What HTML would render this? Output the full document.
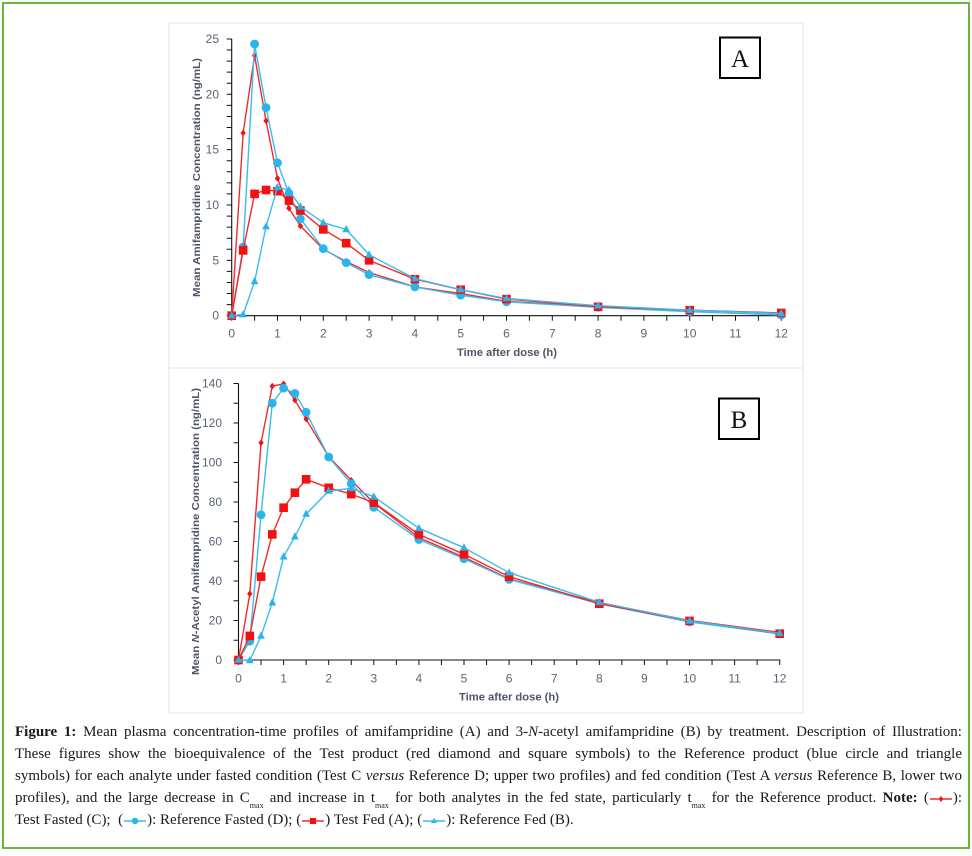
<!DOCTYPE html>
<html><head><meta charset="utf-8">
<style>
html,body{margin:0;padding:0;background:#fff;}
body{width:972px;height:856px;position:relative;overflow:hidden;}
#frame{position:absolute;left:2px;top:2px;width:964px;height:843px;border:2px solid #6db33f;}
svg#c{position:absolute;left:0;top:0;}
#cap{position:absolute;left:15px;top:721px;width:947px;font-family:"Liberation Serif","DejaVu Serif",serif;font-size:15px;color:#1a1a1a;}
#cap div{height:22px;line-height:22px;text-align:justify;text-align-last:justify;white-space:normal;}
#cap div.last{text-align:left;text-align-last:left;}
#cap sub{font-size:8px;vertical-align:-6px;line-height:0;}
.lg{display:inline-block;vertical-align:middle;}
</style></head>
<body>
<div id="frame"></div>
<svg id="c" width="972" height="856" viewBox="0 0 972 856" xmlns="http://www.w3.org/2000/svg">
<defs>
<marker id="mD" markerUnits="userSpaceOnUse" viewBox="-5 -5 10 10" markerWidth="10" markerHeight="10" refX="0" refY="0" overflow="visible"><path d="M0,-3.4 L2.7,0 L0,3.4 L-2.7,0 Z" fill="#f01414"/></marker>
<marker id="mC" markerUnits="userSpaceOnUse" viewBox="-5 -5 10 10" markerWidth="10" markerHeight="10" refX="0" refY="0" overflow="visible"><circle r="4.4" fill="#2ab4ec"/></marker>
<marker id="mS" markerUnits="userSpaceOnUse" viewBox="-5 -5 10 10" markerWidth="10" markerHeight="10" refX="0" refY="0" overflow="visible"><rect x="-4.3" y="-4.3" width="8.6" height="8.6" fill="#f51010"/></marker>
<marker id="mT" markerUnits="userSpaceOnUse" viewBox="-5 -5 10 10" markerWidth="10" markerHeight="10" refX="0" refY="0" overflow="visible"><path d="M0,-4.4 L3.9,2.8 L-3.9,2.8 Z" fill="#2ab4ec"/></marker>
</defs>

<rect x="169" y="23" width="634" height="345" fill="#fff" stroke="#dde3ec" stroke-width="1"/>
<rect x="169" y="368" width="634" height="345" fill="#fff" stroke="#dde3ec" stroke-width="1"/>

<g font-family="'Liberation Sans Narrow','Liberation Sans',sans-serif" font-size="12" fill="#5b6576">
<g text-anchor="end">
<text x="219" y="319.7">0</text>
<text x="219" y="264.3">5</text>
<text x="219" y="209">10</text>
<text x="219" y="153.6">15</text>
<text x="219" y="98.3">20</text>
<text x="219" y="43">25</text>
</g>
<g text-anchor="middle">
<text x="231.7" y="337.5">0</text>
<text x="277.5" y="337.5">1</text>
<text x="323.3" y="337.5">2</text>
<text x="369.1" y="337.5">3</text>
<text x="414.9" y="337.5">4</text>
<text x="460.7" y="337.5">5</text>
<text x="506.5" y="337.5">6</text>
<text x="552.3" y="337.5">7</text>
<text x="598.1" y="337.5">8</text>
<text x="643.9" y="337.5">9</text>
<text x="689.7" y="337.5">10</text>
<text x="735.5" y="337.5">11</text>
<text x="781.3" y="337.5">12</text>
</g>
<g text-anchor="end">
<text x="222" y="664">0</text>
<text x="222" y="624.5">20</text>
<text x="222" y="585">40</text>
<text x="222" y="545.5">60</text>
<text x="222" y="506">80</text>
<text x="222" y="466.5">100</text>
<text x="222" y="427">120</text>
<text x="222" y="387.5">140</text>
</g>
<g text-anchor="middle">
<text x="238.5" y="682.5">0</text>
<text x="283.6" y="682.5">1</text>
<text x="328.7" y="682.5">2</text>
<text x="373.8" y="682.5">3</text>
<text x="418.9" y="682.5">4</text>
<text x="464" y="682.5">5</text>
<text x="509.1" y="682.5">6</text>
<text x="554.2" y="682.5">7</text>
<text x="599.3" y="682.5">8</text>
<text x="644.4" y="682.5">9</text>
<text x="689.5" y="682.5">10</text>
<text x="734.6" y="682.5">11</text>
<text x="779.7" y="682.5">12</text>
</g>
</g>

<g font-family="'Liberation Sans',sans-serif" font-weight="bold" fill="#4d5566">
<text transform="translate(200,177.5) rotate(-90)" text-anchor="middle" font-size="10" textLength="239" lengthAdjust="spacingAndGlyphs">Mean Amifampridine Concentration  (ng/mL)</text>
<text x="507" y="356" text-anchor="middle" font-size="11" textLength="100" lengthAdjust="spacingAndGlyphs">Time after dose  (h)</text>
<text transform="translate(199,531.5) rotate(-90)" text-anchor="middle" font-size="10" textLength="287" lengthAdjust="spacingAndGlyphs">Mean <tspan font-style="italic">N</tspan>-Acetyl Amifampridine Concentration  (ng/mL)</text>
<text x="509" y="700.5" text-anchor="middle" font-size="11" textLength="100" lengthAdjust="spacingAndGlyphs">Time after dose  (h)</text>
</g>

<g stroke="#111" fill="none">
<path d="M231.7,38.9 V315.7 H781.8" stroke-width="1.1"/>
<path d="M229.2,316.2 V38" stroke-width="5" stroke-dasharray="1 10.07"/>
<path d="M231.2,318.2 H782.5" stroke-width="5" stroke-dasharray="1 21.9"/>
<path d="M238.5,383.5 V660 H780.2" stroke-width="1.1"/>
<path d="M236,660.5 V383" stroke-width="5" stroke-dasharray="1 18.75"/>
<path d="M238,662.5 H781" stroke-width="5" stroke-dasharray="1 21.55"/>
</g>

<g fill="none" stroke-width="1.4" stroke-linejoin="round">
<polyline stroke="#f22a2a" marker-start="url(#mD)" marker-mid="url(#mD)" marker-end="url(#mD)" points="231.7,315.7 243.15,133.0 254.6,55.6 266.05,120.9 277.5,178.4 288.95,208.3 300.4,226.0 323.3,249.3 346.2,261.5 369.1,272.5 414.9,286.9 460.7,293.6 506.5,301.3 598.1,306.8 689.7,310.2 781.3,313.5"/>
<polyline stroke="#3bbcee" marker-start="url(#mC)" marker-mid="url(#mC)" marker-end="url(#mC)" points="231.7,315.7 243.15,247.1 254.6,44.0 266.05,107.6 277.5,162.9 288.95,193.4 300.4,218.8 323.3,248.7 346.2,262.6 369.1,274.7 414.9,286.9 460.7,295.2 506.5,301.8 598.1,307.3 689.7,311.7 781.3,315.0"/>
<polyline stroke="#f22a2a" marker-start="url(#mS)" marker-mid="url(#mS)" marker-end="url(#mS)" points="231.7,315.7 243.15,250.4 254.6,193.9 266.05,190.0 277.5,191.2 288.95,200.6 300.4,210.5 323.3,229.4 346.2,243.2 369.1,260.35 414.9,279.2 460.7,289.7 506.5,299.1 598.1,306.8 689.7,310.2 781.3,312.9"/>
<polyline stroke="#3bbcee" marker-start="url(#mT)" marker-mid="url(#mT)" marker-end="url(#mT)" points="231.7,315.7 243.15,314.6 254.6,281.4 266.05,226.6 277.5,187.3 288.95,190.1 300.4,206.7 323.3,222.7 346.2,229.4 369.1,254.8 414.9,278.6 460.7,289.7 506.5,298.5 598.1,305.7 689.7,310.2 781.3,313.5"/>
</g>

<g fill="none" stroke-width="1.4" stroke-linejoin="round">
<polyline stroke="#f22a2a" marker-start="url(#mD)" marker-mid="url(#mD)" marker-end="url(#mD)" points="238.5,660 249.8,593.8 261.05,442.75 272.3,386.1 283.6,383.9 294.9,400.1 306.15,419.05 328.7,456.6 351.25,480.3 373.8,503.0 418.9,537.6 464.0,557.3 509.1,579.0 599.3,602.7 689.5,620.5 779.7,632.35"/>
<polyline stroke="#3bbcee" marker-start="url(#mC)" marker-mid="url(#mC)" marker-end="url(#mC)" points="238.5,660 249.8,641.2 261.05,514.8 272.3,403.25 283.6,388.2 294.9,393.4 306.15,412.3 328.7,457.0 351.25,483.6 373.8,507.3 418.9,539.5 464.0,558.7 509.1,579.4 599.3,603.7 689.5,621.9 779.7,633.9"/>
<polyline stroke="#f22a2a" marker-start="url(#mS)" marker-mid="url(#mS)" marker-end="url(#mS)" points="238.5,660 249.8,635.9 261.05,576.65 272.3,534.4 283.6,507.7 294.9,492.7 306.15,479.3 328.7,487.8 351.25,494.1 373.8,502.6 418.9,534.4 464.0,554.3 509.1,576.65 599.3,603.7 689.5,620.9 779.7,633.7"/>
<polyline stroke="#3bbcee" marker-start="url(#mT)" marker-mid="url(#mT)" marker-end="url(#mT)" points="238.5,660 249.8,660.5 261.05,636 272.3,602.7 283.6,556.7 294.9,536.7 306.15,514 328.7,491 351.25,488.3 373.8,496.7 418.9,528.3 464.0,547.7 509.1,572.7 599.3,602.3 689.5,621 779.7,633.3"/>
</g>

<rect x="720" y="37.5" width="40" height="40.5" fill="#fff" stroke="#000" stroke-width="2"/>
<text x="740" y="67" text-anchor="middle" font-family="'Liberation Serif',serif" font-size="25" fill="#111">A</text>
<rect x="719" y="398.5" width="40" height="40.5" fill="#fff" stroke="#000" stroke-width="2"/>
<text x="739" y="428" text-anchor="middle" font-family="'Liberation Serif',serif" font-size="25" fill="#111">B</text>
</svg>

<div id="cap">
<div><b>Figure 1:</b> Mean plasma concentration-time profiles of amifampridine (A) and 3-<i>N</i>-acetyl amifampridine (B) by treatment. Description of Illustration:</div>
<div>These figures show the bioequivalence of the Test product (red diamond and square symbols) to the Reference product (blue circle and triangle</div>
<div>symbols) for each analyte under fasted condition (Test C <i>versus</i> Reference D; upper two profiles) and fed condition (Test A <i>versus</i> Reference B, lower two</div>
<div>profiles), and the large decrease in C<sub>max</sub> and increase in t<sub>max</sub> for both analytes in the fed state, particularly t<sub>max</sub> for the Reference product. <b>Note:</b> (<svg class="lg" width="24" height="10" viewBox="0 0 24 10"><line x1="1" y1="5" x2="23" y2="5" stroke="#f22a2a" stroke-width="1.5"/><path d="M12,2 L14.3,5 L12,8 L9.7,5 Z" fill="#f01414"/></svg>):</div>
<div class="last">Test Fasted (C);&nbsp; (<svg class="lg" width="24" height="10" viewBox="0 0 24 10"><line x1="1" y1="5" x2="23" y2="5" stroke="#3bbcee" stroke-width="1.5"/><circle cx="12" cy="5" r="3.2" fill="#2ab4ec"/></svg>): Reference Fasted (D); (<svg class="lg" width="24" height="10" viewBox="0 0 24 10"><line x1="1" y1="5" x2="23" y2="5" stroke="#f22a2a" stroke-width="1.5"/><rect x="9" y="2" width="6" height="6" fill="#f51010"/></svg>) Test Fed (A); (<svg class="lg" width="24" height="10" viewBox="0 0 24 10"><line x1="1" y1="5" x2="23" y2="5" stroke="#3bbcee" stroke-width="1.5"/><path d="M12,1.8 L15,7 L9,7 Z" fill="#2ab4ec"/></svg>): Reference Fed (B).</div>
</div>
</body></html>
